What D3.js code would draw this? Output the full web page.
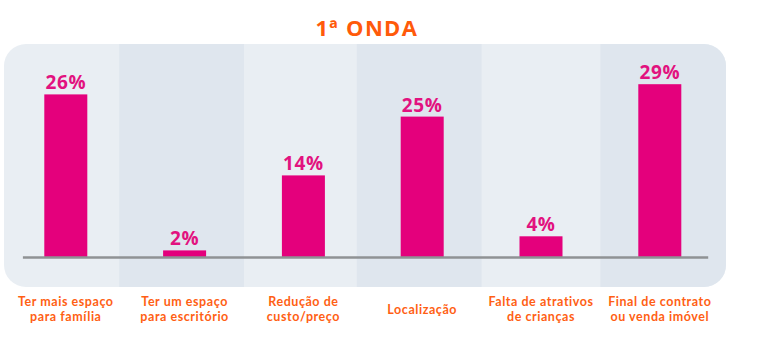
<!DOCTYPE html>
<html>
<head>
<meta charset="utf-8">
<script src="https://cdn.jsdelivr.net/npm/d3@7"></script>
<style>
  body { margin: 0; background: #fff; }
</style>
</head>
<body>
<div id="chart"></div>
<script>
const title = "1ª ONDA";

const categories = [
  ["Ter mais espaço", "para família"],
  ["Ter um espaço", "para escritório"],
  ["Redução de", "custo/preço"],
  ["Localização"],
  ["Falta de atrativos", "de crianças"],
  ["Final de contrato", "ou venda imóvel"],
];

// bar heights, plus the printed labels
const values = [27.1, 1.1, 13.6, 23.4, 3.45, 28.8];
const valueLabels = ["26%", "2%", "14%", "25%", "4%", "29%"];

const width = 762;
const height = 346;
const panel = { left: 4, top: 44, right: 726, bottom: 287, r: 22 };

const svg = d3
  .select("#chart")
  .append("svg")
  .attr("width", width)
  .attr("height", height)
  .style("font-family", "'Open Sans', sans-serif")
  .style("font-weight", 700);

const keys = categories.map((d) => d.join(" "));

const x = d3.scaleBand().domain(keys).range([6.4, 719.2]);
const y = d3.scaleLinear().domain([0, 30]).range([257, 77]);

// rounded panel + alternating stripes
svg
  .append("clipPath")
  .attr("id", "panel")
  .append("rect")
  .attr("x", panel.left)
  .attr("y", panel.top)
  .attr("width", panel.right - panel.left)
  .attr("height", panel.bottom - panel.top)
  .attr("rx", panel.r);

const bg = svg.append("g").attr("clip-path", "url(#panel)");

bg.append("rect")
  .attr("x", panel.left)
  .attr("y", panel.top)
  .attr("width", panel.right - panel.left)
  .attr("height", panel.bottom - panel.top)
  .attr("fill", "#e9eef3");

// darker stripes; the first two start a few px left of their band
const dark = keys.filter((d, i) => i % 2 === 1);
bg.selectAll(".stripe")
  .data(dark)
  .join("rect")
  .attr("class", "stripe")
  .attr("x", (d, i) => x(d) - (i < dark.length - 1 ? 6 : 0))
  .attr("y", panel.top)
  .attr("width", (d, i) =>
    i < dark.length - 1 ? x.bandwidth() + 6 : panel.right - x(d),
  )
  .attr("height", panel.bottom - panel.top)
  .attr("fill", "#dfe6ee");

// bars
const barW = x.bandwidth() * 0.362;

svg
  .append("g")
  .selectAll("rect")
  .data(values)
  .join("rect")
  .attr("x", (d, i) => x(keys[i]) + x.bandwidth() / 2 - barW / 2)
  .attr("y", (d) => y(d))
  .attr("width", barW)
  .attr("height", (d) => y(0) - y(d))
  .attr("fill", "#e4007c");

// baseline
svg
  .append("line")
  .attr("x1", x.range()[0] + 16.5)
  .attr("x2", x.range()[1] - 11)
  .attr("y1", y(0) + 0.5)
  .attr("y2", y(0) + 0.5)
  .attr("stroke", "#8f9294")
  .attr("stroke-width", 2.5);

// value labels
svg
  .append("g")
  .selectAll("text")
  .data(values)
  .join("text")
  .attr("x", (d, i) => x(keys[i]) + x.bandwidth() / 2)
  .attr("y", (d) => y(d) - 5)
  .attr("text-anchor", "middle")
  .attr("font-size", 19)
  .attr("letter-spacing", 0.6)
  .attr("fill", "#e2127f")
  .text((d, i) => valueLabels[i]);

// category labels
const axis = svg
  .append("g")
  .attr("transform", `translate(0,${y(0)})`)
  .call(d3.axisBottom(x).tickSize(0).tickFormat(""));
axis.select(".domain").remove();
axis.attr("font-family", null).attr("font-size", null);

axis
  .selectAll(".tick text")
  .style("font-family", "Lato, sans-serif")
  .style("font-weight", 700)
  .style("font-size", "12.5px")
  .attr("letter-spacing", 0.55)
  .attr("fill", "#ff5f14")
  .attr("y", 0)
  .attr("dy", null)
  .each(function (d, i) {
    const lines = categories[i];
    const t = d3.select(this);
    const lh = 15.2;
    const base = 56.5 - ((lines.length - 1) * lh) / 2;
    lines.forEach((line, j) => {
      t.append("tspan")
        .attr("x", 0)
        .attr("y", base + j * lh)
        .text(line);
    });
  });

// title
svg
  .append("text")
  .attr("x", (x.range()[0] + x.range()[1]) / 2 + 4)
  .attr("y", 36)
  .attr("text-anchor", "middle")
  .attr("font-size", 22)
  .attr("letter-spacing", 1.3)
  .attr("fill", "#ff5a0a")
  .text(title);
</script>
</body>
</html>
